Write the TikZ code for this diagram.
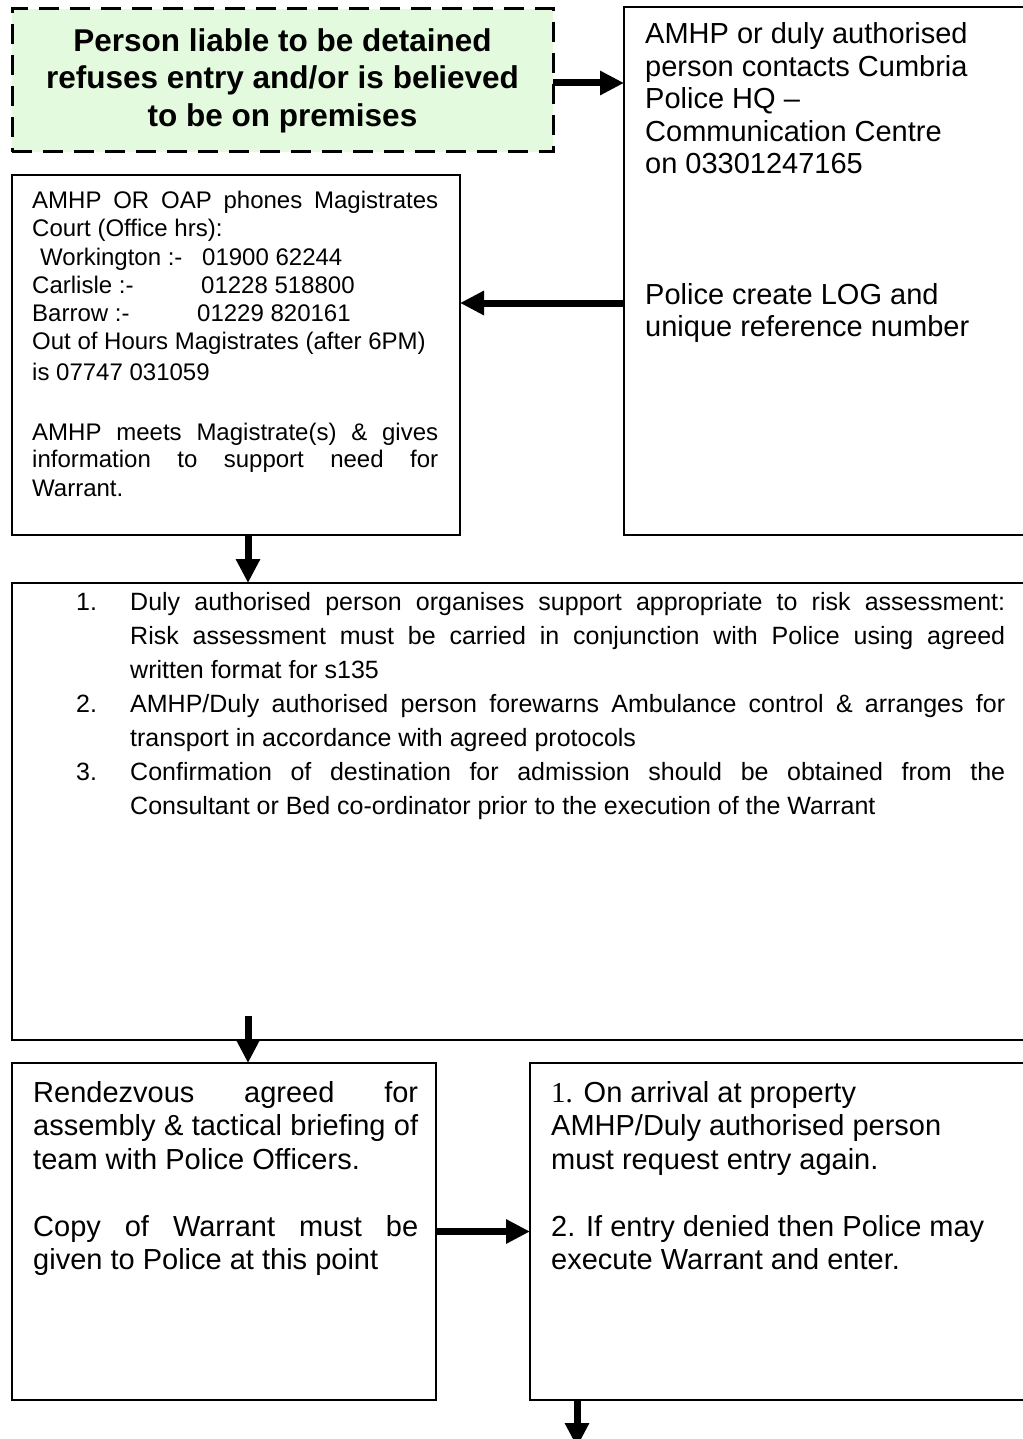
\documentclass[tikz,border=0pt]{standalone}
\usepackage{fontspec}
\setmainfont{Liberation Sans}
\newfontfamily\numserif{Liberation Serif}
\usetikzlibrary{arrows.meta,positioning}
\definecolor{startgreen}{RGB}{228,250,222}
\tikzset{
  stepbox/.style={draw,rectangle,line width=1.6pt,inner sep=0pt,outer sep=0pt,anchor=north west},
  flow/.style={line width=7pt,-{Triangle[length=24pt,width=23pt]}},
  txt/.style={inner sep=0pt,anchor=base west},
}
\begin{document}
\begin{tikzpicture}[x=1pt,y=-1pt]
\useasboundingbox (0,0) rectangle (1022,1439);
% boxes
\node[stepbox,fill=startgreen,line width=3pt,dash pattern=on 20pt off 11pt,minimum width=541pt,minimum height=143pt,align=center,font=\bfseries\fontsize{31.5}{37.5}\selectfont] (start) at (12,9) {Person liable to be detained\\refuses entry and/or is believed\\to be on premises};
\node[stepbox,minimum width=430pt,minimum height=528pt] (police) at (624,7) {};
\node[stepbox,minimum width=448pt,minimum height=360pt] (magis) at (12,175) {};
\node[stepbox,minimum width=1040pt,minimum height=457pt] (steps) at (12,583) {};
\node[stepbox,minimum width=424pt,minimum height=337pt] (rendez) at (12,1063) {};
\node[stepbox,minimum width=520pt,minimum height=337pt] (entry) at (530,1063) {};
% texts
\node[txt] (policetxt) at (645,44) {\parbox[t]{370pt}{\fontsize{29}{32.5}\selectfont
  AMHP or duly authorised\\person contacts Cumbria\\Police HQ --\\Communication Centre\\on 03301247165\\[98pt]
  Police create LOG and\\unique reference number}};
\node[txt] (magistxt) at (32,209) {\parbox[t]{406pt}{\fontsize{24}{28}\selectfont
  \makebox[\linewidth][s]{AMHP OR OAP phones Magistrates}\\
  Court (Office hrs):\\[1pt]
  \hspace*{8pt}\makebox[162pt][l]{Workington :-}01900 62244\\
  \makebox[169pt][l]{Carlisle :-}01228 518800\\
  \makebox[165pt][l]{Barrow :-}01229 820161\\
  Out of Hours Magistrates (after 6PM)\\[3pt]
  is 07747 031059\\[31pt]
  \makebox[\linewidth][s]{AMHP meets Magistrate(s) \& gives}\\
  \makebox[\linewidth][s]{information to support need for}\\
  Warrant.}};
\foreach \n/\y in {1/610,2/712,3/780}
  \node[txt,font=\fontsize{25}{34}\selectfont] (num\n) at (76,\y) {\n.};
\node[txt] (stepstxt) at (130,610) {\parbox[t]{875pt}{\fontsize{25}{34}\selectfont
  \makebox[\linewidth][s]{Duly authorised person organises support appropriate to risk assessment:}\\
  \makebox[\linewidth][s]{Risk assessment must be carried in conjunction with Police using agreed}\\
  written format for s135\\
  \makebox[\linewidth][s]{AMHP/Duly authorised person forewarns Ambulance control \& arranges for}\\
  transport in accordance with agreed protocols\\
  \makebox[\linewidth][s]{Confirmation of destination for admission should be obtained from the}\\
  Consultant or Bed co-ordinator prior to the execution of the Warrant}};
\node[txt] (rendeztxt) at (33,1102) {\parbox[t]{385pt}{\fontsize{29}{33.5}\selectfont
  \makebox[\linewidth][s]{Rendezvous agreed for}\\
  \makebox[\linewidth][s]{assembly \& tactical briefing of}\\
  team with Police Officers.\\[33.5pt]
  \makebox[\linewidth][s]{Copy of Warrant must be}\\
  given to Police at this point}};
\node[txt] (entrytxt) at (551,1102) {\parbox[t]{460pt}{\fontsize{29}{33.5}\selectfont
  {\numserif 1.} On arrival at property\\
  AMHP/Duly authorised person\\
  must request entry again.\\[33.5pt]
  2. If entry denied then Police may\\
  execute Warrant and enter.}};
% arrows
\draw[flow] ([yshift=-2.5pt]start.east) -- ([yshift=-2.5pt]start.east -| police.west);
\draw[flow] ([yshift=-32pt]police.west) -- ([yshift=-32pt]police.west -| magis.east);
\draw[flow] ([xshift=12pt]magis.south) -- ([xshift=12pt]magis.south |- steps.north);
\draw[flow] ([shift={(24pt,47pt)}]rendez.north) -- ([xshift=24pt]rendez.north);
\draw[flow] (rendez.east) -- (rendez.east -| entry.west);
\coordinate (exit) at (577,1447);
\draw[flow] (exit |- entry.south) -- (exit);
\end{tikzpicture}
\end{document}
